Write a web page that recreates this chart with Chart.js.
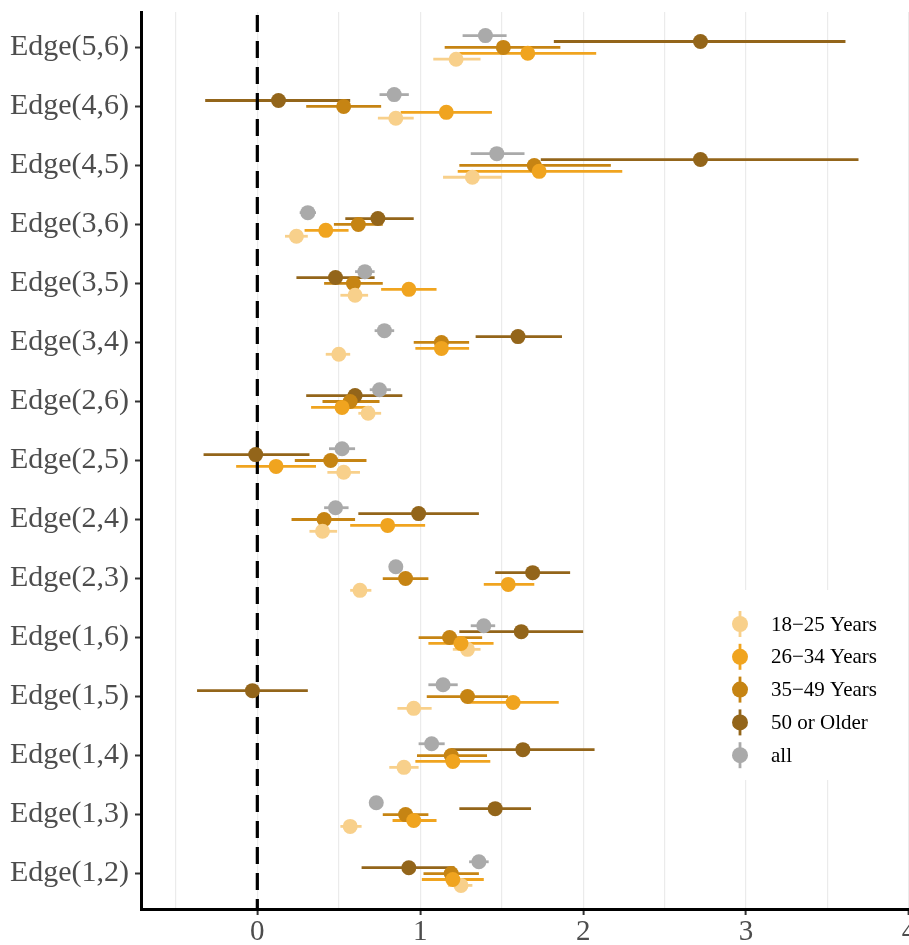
<!DOCTYPE html>
<html>
<head>
<meta charset="utf-8">
<script src="https://cdn.jsdelivr.net/npm/chart.js@4.4.0/dist/chart.umd.min.js"></script>
<style>
  html, body { margin: 0; padding: 0; background: #fff; }
  canvas { display: block; }
</style>
</head>
<body>
<canvas id="grafico" width="909" height="945"></canvas>
<script>
// categorias de cima para baixo
const categorias = ['Edge(5,6)', 'Edge(4,6)', 'Edge(4,5)', 'Edge(3,6)', 'Edge(3,5)', 'Edge(3,4)', 'Edge(2,6)',
    'Edge(2,5)', 'Edge(2,4)', 'Edge(2,3)', 'Edge(1,6)', 'Edge(1,5)', 'Edge(1,4)', 'Edge(1,3)', 'Edge(1,2)'];

const grupos = ['18\u221225 Years', '26\u221234 Years', '35\u221249 Years', '50 or Older', 'all'];
const cores = ['#F8D08B', '#F0A41F', '#C68413', '#93651A', '#AAAAAA'];

const est1825 = [1.22, 0.85, 1.32, 0.24, 0.60, 0.50, 0.68, 0.53, 0.40, 0.63, 1.29, 0.96, 0.90, 0.57, 1.25];
const lo1825  = [1.08, 0.74, 1.14, 0.17, 0.51, 0.42, 0.62, 0.43, 0.32, 0.57, 1.20, 0.86, 0.81, 0.51, 1.17];
const hi1825  = [1.37, 0.96, 1.50, 0.31, 0.68, 0.57, 0.76, 0.63, 0.49, 0.70, 1.37, 1.07, 0.99, 0.64, 1.32];

const est2634 = [1.66, 1.16, 1.73, 0.42, 0.93, 1.13, 0.52, 0.115, 0.80, 1.54, 1.25, 1.57, 1.20, 0.96, 1.20];
const lo2634  = [1.24, 0.88, 1.23, 0.29, 0.76, 0.97, 0.33, -0.13, 0.57, 1.39, 1.05, 1.29, 0.97, 0.83, 1.01];
const hi2634  = [2.08, 1.44, 2.24, 0.56, 1.10, 1.30, 0.70, 0.36, 1.03, 1.70, 1.45, 1.85, 1.43, 1.10, 1.39];

const est3549 = [1.51, 0.53, 1.70, 0.62, 0.59, 1.13, 0.57, 0.45, 0.41, 0.91, 1.18, 1.29, 1.19, 0.91, 1.19];
const lo3549  = [1.15, 0.30, 1.24, 0.47, 0.41, 0.96, 0.40, 0.23, 0.21, 0.77, 0.99, 1.04, 0.98, 0.77, 1.02];
const hi3549  = [1.86, 0.76, 2.17, 0.77, 0.77, 1.30, 0.75, 0.67, 0.60, 1.05, 1.38, 1.54, 1.41, 1.05, 1.36];

const est50 = [2.72, 0.13, 2.72, 0.74, 0.48, 1.60, 0.60, -0.01, 0.99, 1.69, 1.62, -0.03, 1.63, 1.46, 0.93];
const lo50  = [1.82, -0.32, 1.74, 0.54, 0.24, 1.34, 0.30, -0.33, 0.62, 1.46, 1.24, -0.37, 1.19, 1.24, 0.64];
const hi50  = [3.61, 0.57, 3.69, 0.96, 0.72, 1.87, 0.89, 0.32, 1.36, 1.92, 2.00, 0.31, 2.07, 1.68, 1.21];

const estAll = [1.40, 0.84, 1.47, 0.31, 0.66, 0.78, 0.75, 0.52, 0.48, 0.85, 1.39, 1.14, 1.07, 0.73, 1.36];
const loAll  = [1.26, 0.75, 1.31, 0.26, 0.60, 0.72, 0.69, 0.44, 0.41, 0.81, 1.31, 1.05, 0.99, 0.69, 1.30];
const hiAll  = [1.53, 0.93, 1.64, 0.36, 0.72, 0.84, 0.82, 0.60, 0.56, 0.89, 1.46, 1.23, 1.15, 0.77, 1.42];

const estimativas = [est1825, est2634, est3549, est50, estAll];
const inferiores = [lo1825, lo2634, lo3549, lo50, loAll];
const superiores = [hi1825, hi2634, hi3549, hi50, hiAll];

// deslocamento vertical de cada grupo dentro da linha (eixo invertido: negativo = acima)
const deslocamento = [0.2, 0.1, 0, -0.1, -0.2];
const ordemDesenho = [1, 0, 2, 3, 4];

const xTicks = [-0.5, 0, 0.5, 1, 1.5, 2, 2.5, 3, 3.5, 4];
const fonte = 'Liberation Serif, Times New Roman, serif';

const datasets = grupos.map((g, k) => ({
    label: g,
    data: estimativas[k].map((v, i) => ({ x: v, y: i + deslocamento[k] })),
    lo: inferiores[k],
    hi: superiores[k],
    backgroundColor: cores[k],
    borderWidth: 0,
    pointRadius: 7.5,
    pointHoverRadius: 7.5,
    order: ordemDesenho[k]
}));

// barras de erro + linha tracejada em x = 0
const barrasErro = {
    id: 'barrasErro',
    beforeDatasetsDraw(chart) {
        const ctx = chart.ctx;
        const x = chart.scales.x, y = chart.scales.y;
        const area = chart.chartArea;
        ctx.save();
        ctx.beginPath();
        ctx.rect(area.left, area.top, area.right - area.left, area.bottom - area.top);
        ctx.clip();
        ctx.lineWidth = 2.8;
        chart.data.datasets.forEach(ds => {
            ctx.strokeStyle = ds.backgroundColor;
            ds.data.forEach((p, i) => {
                const py = y.getPixelForValue(p.y);
                ctx.beginPath();
                ctx.moveTo(x.getPixelForValue(ds.lo[i]), py);
                ctx.lineTo(x.getPixelForValue(ds.hi[i]), py);
                ctx.stroke();
            });
        });
        const x0 = x.getPixelForValue(0);
        ctx.strokeStyle = '#000';
        ctx.lineWidth = 3.2;
        ctx.setLineDash([17, 9]);
        ctx.beginPath();
        ctx.moveTo(x0, area.top + 3);
        ctx.lineTo(x0, area.bottom);
        ctx.stroke();
        ctx.restore();
    }
};

// legenda dentro da área do gráfico
const legenda = {
    id: 'legenda',
    afterDraw(chart) {
        const ctx = chart.ctx;
        ctx.save();
        ctx.fillStyle = '#fff';
        ctx.fillRect(718, 590, 180, 190);
        grupos.forEach((g, k) => {
            const cy = 624 + k * 32.8;
            ctx.strokeStyle = cores[k];
            ctx.lineWidth = 2.8;
            ctx.beginPath();
            ctx.moveTo(740, cy - 13);
            ctx.lineTo(740, cy + 13);
            ctx.stroke();
            ctx.fillStyle = cores[k];
            ctx.beginPath();
            ctx.arc(740, cy, 8, 0, Math.PI * 2);
            ctx.fill();
            ctx.fillStyle = '#000';
            ctx.font = '21px ' + fonte;
            ctx.textBaseline = 'middle';
            ctx.fillText(g, 771, cy + 1);
        });
        ctx.restore();
    }
};

new Chart(document.getElementById('grafico').getContext('2d'), {
    type: 'scatter',
    data: { datasets: datasets },
    options: {
        responsive: false,
        animation: false,
        layout: { autoPadding: false, padding: { top: 12, left: 0, right: 0, bottom: 0 } },
        plugins: { legend: { display: false }, tooltip: { enabled: false } },
        scales: {
            x: {
                type: 'linear',
                min: -0.714,
                max: 4,
                afterBuildTicks: s => { s.ticks = xTicks.map(v => ({ value: v })); },
                afterFit: s => { s.height = 36; s.paddingLeft = 0; s.paddingRight = 0; },
                grid: {
                    color: '#EBEBEB',
                    lineWidth: 1.2,
                    tickLength: 6,
                    tickWidth: 2,
                    tickColor: c => Number.isInteger(c.tick.value) ? '#333' : 'rgba(0,0,0,0)'
                },
                border: { display: true, color: '#000', width: 3 },
                ticks: {
                    callback: v => Number.isInteger(v) ? String(v) : '',
                    color: '#4D4D4D',
                    font: { family: fonte, size: 29 },
                    padding: 0,
                    maxRotation: 0,
                    autoSkip: false
                }
            },
            y: {
                type: 'linear',
                reverse: true,
                min: -0.6,
                max: 14.6,
                afterBuildTicks: s => { s.ticks = categorias.map((c, i) => ({ value: i })); },
                afterFit: s => { s.width = 141; s.paddingTop = 0; s.paddingBottom = 0; },
                grid: { drawOnChartArea: false, tickLength: 6, tickWidth: 2, tickColor: '#333' },
                border: { display: true, color: '#000', width: 3 },
                ticks: {
                    callback: v => categorias[v],
                    color: '#4D4D4D',
                    font: { family: fonte, size: 30 },
                    padding: 6,
                    autoSkip: false
                }
            }
        }
    },
    plugins: [barrasErro, legenda]
});
</script>
</body>
</html>
